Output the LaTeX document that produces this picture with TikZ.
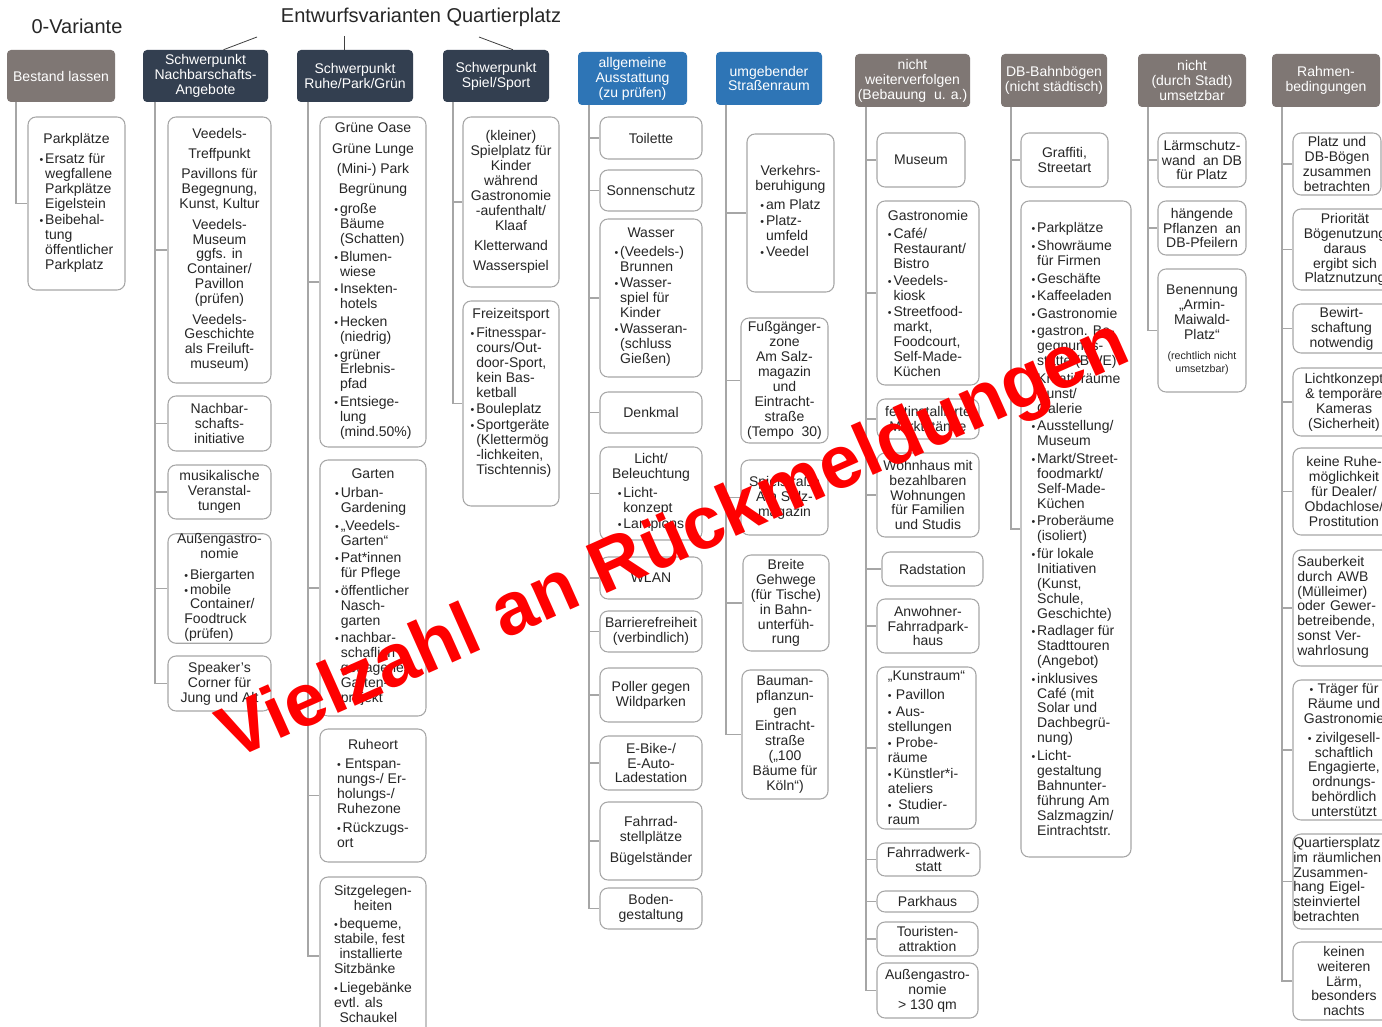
\documentclass[tikz,border=0pt]{standalone}
\usepackage{fontspec}
\setmainfont{Liberation Sans}
\usetikzlibrary{calc}
\definecolor{hgray}{HTML}{7F7774}
\definecolor{hnavy}{HTML}{333F50}
\definecolor{hblue}{HTML}{2E75B6}
\definecolor{bgray}{HTML}{A6A6A6}
\definecolor{tx}{HTML}{262626}
\newcommand\bu{\makebox[4.2pt][l]{\fontsize{8}{8}\selectfont\textbullet}}
\newcommand\ii{\hspace*{4.2pt}}
\newcommand\bl[1]{\begin{tabular}[t]{@{}l@{}}#1\end{tabular}}
\newcommand\kid[7][]{\node[kid,minimum width={(#5-#3)*0.75pt},minimum height={(#6-#4)*0.75pt},#1] (#2) at ({(#3+#5)/2},{(#4+#6)/2}) {#7};}
\newcommand\hd[7]{\node[hd,fill=#6,minimum width={(#4-#2)*0.75pt},minimum height={(#5-#3)*0.75pt}] (#1) at ({(#2+#4)/2},{(#3+#5)/2}) {#7};}
\tikzset{
 kid/.style={draw=bgray, line width=0.8pt, rounded corners=6pt, fill=white, inner sep=0pt, align=center, font=\fontsize{10.5}{11.2}\selectfont, text=tx},
 hd/.style={rounded corners=3pt, inner sep=0pt, align=center, text=white, font=\fontsize{10.5}{11.2}\selectfont},
 conn/.style={draw=bgray, line width=0.8pt},
 tline/.style={draw=black!75, line width=0.6pt},
}
\begin{document}
\begin{tikzpicture}[x=0.75pt,y=-0.75pt]
\useasboundingbox[fill=white] (0,0) rectangle (1382,1027);
% titles
\node[font=\fontsize{15}{18}\selectfont, text=tx] (t0) at (77,26) {0-Variante};
\node[font=\fontsize{15}{18}\selectfont, text=tx] (ti) at (421,17) {Entwurfsvarianten Quartierplatz};
% headers
\hd{h1}{7}{50}{115}{102}{hgray}{Bestand lassen}
\hd{h2}{143}{50}{268}{102}{hnavy}{Schwerpunkt\\Nachbarschafts-\\Angebote}
\hd{h3}{297}{50}{413}{102}{hnavy}{Schwerpunkt\\Ruhe/Park/Grün}
\hd{h4}{443}{50}{549}{102}{hnavy}{Schwerpunkt\\Spiel/Sport}
\hd{h5}{578}{52}{687}{105}{hblue}{allgemeine\\Ausstattung\\(zu prüfen)}
\hd{h6}{716}{52}{822}{105}{hblue}{umgebender\\Straßenraum}
\hd{h7}{855}{54}{970}{107}{hgray}{nicht\\weiterverfolgen\\(Bebauung\ \ u. a.)}
\hd{h8}{1001}{54}{1107}{107}{hgray}{DB-Bahnbögen\\(nicht städtisch)}
\hd{h9}{1138}{54}{1246}{107}{hgray}{nicht\\(durch Stadt)\\umsetzbar}
\hd{h10}{1272}{54}{1380}{107}{hgray}{Rahmen-\\bedingungen}
% title connectors
\coordinate (a2) at (257,37);
\coordinate (a3) at (344,36);
\coordinate (a4) at (479,37);
\draw[tline] (a2) -- ($(h2.north)+(18,0)$);
\draw[tline] (a3) -- ($(h3.north)+(-11,0)$);
\draw[tline] (a4) -- ($(h4.north)+(17,0)$);
% column 1
\kid{k11}{28}{117}{125}{290}{Parkplätze\\[4pt]\bl{\bu Ersatz für\\\ii wegfallene\\\ii Parkplätze\\\ii Eigelstein\\[1pt]\bu Beibehal-\\\ii tung\\\ii öffentlicher\\\ii Parkplatz}}
% column 2
\kid{k21}{168}{117}{271}{383}{Veedels-\\[4pt]Treffpunkt\\[4pt]Pavillons für\\Begegnung,\\Kunst, Kultur\\[4pt]Veedels-\\Museum\\ggfs. in\\Container/\\Pavillon\\(prüfen)\\[4pt]Veedels-\\Geschichte\\als Freiluft-\\museum)}
\kid{k22}{168}{396}{271}{451}{Nachbar-\\schafts-\\initiative}
\kid{k23}{168}{465}{271}{519}{musikalische\\Veranstal-\\tungen}
\kid{k24}{168}{534}{271}{643}{Außengastro-\\nomie\\[4pt]\bl{\bu Biergarten\\\bu mobile\\\ii Container/\\Foodtruck\\(prüfen)}}
\kid{k25}{168}{656}{271}{711}{Speaker’s\\Corner für\\Jung und Alt}
% column 3
\kid{k31}{320}{117}{426}{447}{Grüne Oase\\[4pt]Grüne Lunge\\[4pt](Mini-) Park\\[4pt]Begrünung\\[4pt]\bl{\bu große\\\ii Bäume\\\ii (Schatten)\\[2pt]\bu Blumen-\\\ii wiese\\[2pt]\bu Insekten-\\\ii hotels\\[2pt]\bu Hecken\\\ii (niedrig)\\[2pt]\bu grüner\\\ii Erlebnis-\\\ii pfad\\[2pt]\bu Entsiege-\\\ii lung\\\ii (mind.50\%)}}
\kid{k32}{320}{460}{426}{716}{Garten\\[3pt]\bl{\bu Urban-\\\ii Gardening\\[2pt]\bu „Veedels-\\\ii Garten“\\[2pt]\bu Pat*innen\\\ii für Pflege\\[2pt]\bu öffentlicher\\\ii Nasch-\\\ii garten\\[2pt]\bu nachbar-\\\ii schaflich\\\ii getragenes\\\ii Garten-\\\ii projekt}}
\kid{k33}{320}{729}{426}{862}{Ruheort\\[3pt]\bl{\bu\,Entspan-\\nungs-/ Er-\\holungs-/\\Ruhezone\\[3pt]\bu Rückzugs-\\ort}}
\kid{k34}{320}{877}{426}{1035}{Sitzgelegen-\\heiten\\[3pt]\bl{\bu bequeme,\\stabile, fest\\\ii installierte\\Sitzbänke\\[3pt]\bu Liegebänke\\evtl. als\\\ii Schaukel}}
% column 4
\kid{k41}{463}{117}{559}{287}{(kleiner)\\Spielplatz für\\Kinder\\während\\Gastronomie\\-aufenthalt/\\Klaaf\\[4pt]Kletterwand\\[4pt]Wasserspiel}
\kid{k42}{463}{301}{559}{506}{Freizeitsport\\[3pt]\bl{\bu Fitnesspar-\\\ii cours/Out-\\\ii door-Sport,\\\ii kein Bas-\\\ii ketball\\[1pt]\bu Bouleplatz\\[1pt]\bu Sportgeräte\\\ii (Klettermög\\\ii -lichkeiten,\\\ii Tischtennis)}\\[14pt]}
% column 5
\kid{k51}{600}{117}{702}{159}{Toilette}
\kid{k52}{600}{170}{702}{211}{Sonnenschutz}
\kid{k53}{600}{219}{702}{377}{Wasser\\[3pt]\bl{\bu (Veedels-)\\\ii Brunnen\\[1pt]\bu Wasser-\\\ii spiel für\\\ii Kinder\\[1pt]\bu Wasseran-\\\ii (schluss\\\ii Gießen)}}
\kid{k54}{600}{392}{702}{433}{Denkmal}
\kid{k55}{600}{447}{702}{540}{Licht/\\Beleuchtung\\[3pt]\bl{\bu Licht-\\\ii konzept\\[1pt]\bu Lampions}}
\kid{k56}{600}{557}{702}{599}{WLAN}
\kid{k57}{600}{611}{702}{652}{Barrierefreiheit\\(verbindlich)}
\kid{k58}{600}{668}{702}{722}{Poller gegen\\Wildparken}
\kid{k59}{600}{736}{702}{790}{E-Bike-/\\E-Auto-\\Ladestation}
\kid{k5a}{600}{802}{702}{880}{Fahrrad-\\stellplätze\\[5pt]Bügelständer}
\kid{k5b}{600}{888}{702}{929}{Boden-\\gestaltung}
% column 6
\kid{k61}{747}{134}{834}{292}{Verkehrs-\\beruhigung\\[3pt]\bl{\bu am Platz\\[1pt]\bu Platz-\\\ii umfeld\\[1pt]\bu Veedel}}
\kid{k62}{741}{318}{828}{443}{Fußgänger-\\zone\\Am Salz-\\magazin\\und\\Eintracht-\\straße\\(Tempo\ \ 30)}
\kid{k63}{741}{460}{828}{535}{Spielstraße\\Am Salz-\\magazin}
\kid{k64}{743}{555}{829}{651}{Breite\\Gehwege\\(für Tische)\\in Bahn-\\unterfüh-\\rung}
\kid{k65}{742}{670}{828}{799}{Bauman-\\pflanzun-\\gen\\Eintracht-\\straße\\(„100\\Bäume für\\Köln“)}
% column 7
\kid{k71}{877}{133}{965}{187}{Museum}
\kid[align=left]{k72}{877}{201}{979}{385}{Gastronomie\\[3pt]\bu Café/\\\ii Restaurant/\\\ii Bistro\\[1pt]\bu Veedels-\\\ii kiosk\\[1pt]\bu Streetfood-\\\ii markt,\\\ii Foodcourt,\\\ii Self-Made-\\\ii Küchen}
\kid{k73}{877}{399}{979}{439}{festinstallierte\\Marktstände}
\kid{k74}{877}{453}{979}{537}{Wohnhaus mit\\bezahlbaren\\Wohnungen\\für Familien\\und Studis}
\kid{k75}{882}{552}{983}{586}{Radstation}
\kid{k76}{877}{599}{979}{653}{Anwohner-\\Fahrradpark-\\haus}
\kid[align=left]{k77}{877}{667}{976}{829}{„Kunstraum“\\[3pt]\bu\,Pavillon\\[1pt]\bu\,Aus-\\stellungen\\[1pt]\bu\,Probe-\\räume\\[1pt]\bu Künstler*i-\\ateliers\\[1pt]\bu\,\,Studier-\\raum}
\kid{k78}{877}{843}{980}{876}{Fahrradwerk-\\statt}
\kid{k79}{877}{891}{978}{912}{Parkhaus}
\kid{k7a}{877}{922}{978}{956}{Touristen-\\attraktion}
\kid{k7b}{877}{963}{978}{1018}{Außengastro-\\nomie\\> 130 qm}
% column 8
\kid{k81}{1021}{133}{1108}{187}{Graffiti,\\Streetart}
\kid[align=left]{k82}{1021}{201}{1131}{857}{\bu Parkplätze\\[2pt]\bu Showräume\\\ii für Firmen\\[2pt]\bu Geschäfte\\[2pt]\bu Kaffeeladen\\[2pt]\bu Gastronomie\\[2pt]\bu gastron. Be-\\\ii gegnungs-\\\ii stätte (BWE)\\[2pt]\bu Kreativräume\\\ii Kunst/\\\ii Galerie\\[2pt]\bu Ausstellung/\\\ii Museum\\[2pt]\bu Markt/Street-\\\ii foodmarkt/\\\ii Self-Made-\\\ii Küchen\\[2pt]\bu Proberäume\\\ii (isoliert)\\[2pt]\bu für lokale\\\ii Initiativen\\\ii (Kunst,\\\ii Schule,\\\ii Geschichte)\\[2pt]\bu Radlager für\\\ii Stadttouren\\\ii (Angebot)\\[2pt]\bu inklusives\\\ii Café (mit\\\ii Solar und\\\ii Dachbegrü-\\\ii nung)\\[2pt]\bu Licht-\\\ii gestaltung\\\ii Bahnunter-\\\ii führung Am\\\ii Salzmagzin/\\\ii Eintrachtstr.}
% column 9
\kid{k91}{1158}{133}{1246}{187}{Lärmschutz-\\wand\ \ an DB\\für Platz}
\kid{k92}{1158}{201}{1246}{255}{hängende\\Pflanzen\ \ an\\DB-Pfeilern}
\kid{k93}{1158}{269}{1246}{392}{Benennung\\„Armin-\\Maiwald-\\Platz“\\[4pt]{\fontsize{8}{9.5}\selectfont\begin{tabular}[t]{@{}c@{}}(rechtlich nicht\\umsetzbar)\end{tabular}}}
% column 10
\kid{ka1}{1293}{133}{1381}{195}{Platz und\\DB-Bögen\\zusammen\\betrachten}
\kid{ka2}{1293}{209}{1397}{290}{Priorität\\Bögenutzung\\daraus\\ergibt sich\\Platznutzung}
\kid{ka3}{1293}{304}{1390}{353}{Bewirt-\\schaftung\\notwendig}
\kid{ka4}{1293}{368}{1395}{436}{Lichtkonzept\\\& temporäre\\Kameras\\(Sicherheit)}
\kid{ka5}{1293}{448}{1395}{535}{keine Ruhe-\\möglichkeit\\für Dealer/\\Obdachlose/\\Prostitution}
\kid[align=left,text width=70pt]{ka6}{1293}{550}{1395}{666}{\bl{Sauberkeit\\durch AWB\\(Mülleimer)\\oder Gewer-\\betreibende,\\sonst Ver-\\wahrlosung}}
\kid{ka7}{1293}{680}{1395}{820}{\bu\,Träger für\\Räume und\\Gastronomie\\[3pt]\bu\,zivilgesell-\\schaftlich\\Engagierte,\\ordnungs-\\behördlich\\unterstützt}
\kid[align=left,text width=76pt]{ka8}{1293}{834}{1395}{929}{\bl{Quartiersplatz\\im räumlichen\\Zusammen-\\hang Eigel-\\steinviertel\\betrachten}}
\kid{ka9}{1293}{942}{1395}{1020}{keinen\\weiteren\\Lärm,\\besonders\\nachts}
% trunks
\coordinate (t1) at (16,102);
\coordinate (t2) at (155,102);
\coordinate (t3) at (308,102);
\coordinate (t4) at (453,102);
\coordinate (t5) at (589,105);
\coordinate (t6) at (726,105);
\coordinate (t7) at (866,107);
\coordinate (t8) at (1011,107);
\coordinate (t9) at (1148,107);
\coordinate (t10) at (1282,107);
\foreach \k in {k11} \draw[conn] (t1) |- (\k.west);
\foreach \k in {k21,k22,k23,k24,k25} \draw[conn] (t2) |- (\k.west);
\foreach \k in {k31,k32,k33,k34} \draw[conn] (t3) |- (\k.west);
\foreach \k in {k41,k42} \draw[conn] (t4) |- (\k.west);
\foreach \k in {k51,k52,k53,k54,k55,k56,k57,k58,k59,k5a,k5b} \draw[conn] (t5) |- (\k.west);
\foreach \k in {k61,k62,k63,k64,k65} \draw[conn] (t6) |- (\k.west);
\foreach \k in {k71,k72,k73,k74,k75,k76,k77,k78,k79,k7a,k7b} \draw[conn] (t7) |- (\k.west);
\foreach \k in {k81,k82} \draw[conn] (t8) |- (\k.west);
\foreach \k in {k91,k92,k93} \draw[conn] (t9) |- (\k.west);
\foreach \k in {ka1,ka2,ka3,ka4,ka5,ka6,ka7,ka8,ka9} \draw[conn] (t10) |- (\k.west);
% watermark
\node[rotate=24, anchor=base, text=red, font=\bfseries\fontsize{56}{56}\selectfont, inner sep=0pt] (wm) at (683,560) {Vielzahl an Rückmeldungen};
\end{tikzpicture}
\end{document}
